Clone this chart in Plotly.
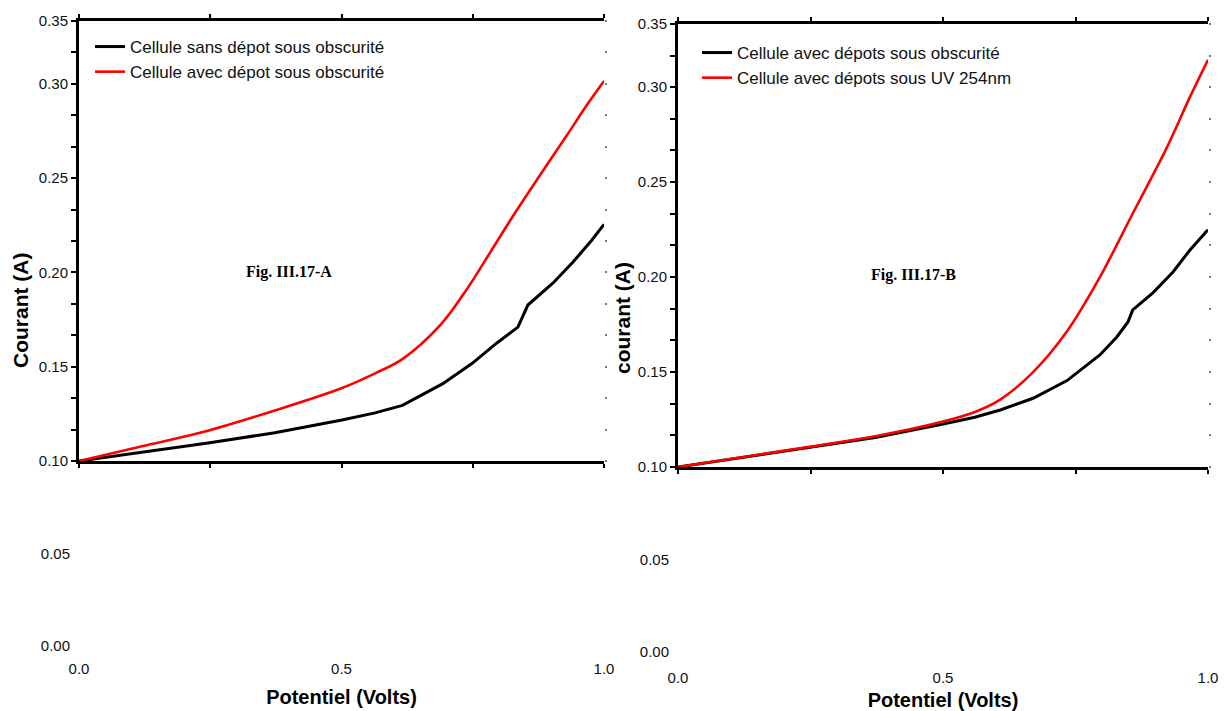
import plotly.graph_objects as go

W, H = 1224, 711

# ---------------- data ----------------
xA_black = [0.0, 0.12, 0.246, 0.373, 0.501, 0.564, 0.616, 0.693, 0.749, 0.796, 0.836, 0.855, 0.903, 0.941, 0.977, 1.0]
yA_black = [0.100, 0.1045, 0.1095, 0.1150, 0.1217, 0.1255, 0.1295, 0.1410, 0.1518, 0.1626, 0.1710, 0.1827, 0.1944, 0.2055, 0.2172, 0.2255]

xA_red = [0.0, 0.12, 0.234, 0.373, 0.501, 0.564, 0.616, 0.688, 0.739, 0.783, 0.827, 0.878, 0.930, 0.968, 1.0]
yA_red = [0.100, 0.1078, 0.1152, 0.1268, 0.1387, 0.1465, 0.1540, 0.1720, 0.1912, 0.2105, 0.2300, 0.2515, 0.2730, 0.2890, 0.3015]

xB_black = [0.0, 0.245, 0.372, 0.498, 0.560, 0.608, 0.670, 0.734, 0.796, 0.828, 0.849, 0.858, 0.896, 0.934, 0.966, 1.0]
yB_black = [0.100, 0.1100, 0.1155, 0.1225, 0.1262, 0.1300, 0.1362, 0.1455, 0.1590, 0.1685, 0.1764, 0.1827, 0.1917, 0.2027, 0.2143, 0.2249]

xB_red = [0.0, 0.245, 0.372, 0.498, 0.560, 0.608, 0.670, 0.734, 0.796, 0.858, 0.923, 0.966, 1.0]
yB_red = [0.100, 0.1105, 0.1162, 0.1238, 0.1290, 0.1355, 0.1500, 0.1715, 0.2000, 0.2335, 0.2686, 0.2949, 0.3145]

names_A = ["Cellule sans dépot sous obscurité", "Cellule avec dépot sous obscurité"]
names_B = ["Cellule avec dépots sous obscurité", "Cellule avec dépots sous UV 254nm"]

y_tick_vals = [0.10, 0.1167, 0.1333, 0.15, 0.1667, 0.1833, 0.20, 0.2167, 0.2333,
               0.25, 0.2667, 0.2833, 0.30, 0.3167, 0.3333]
y_tick_text = ["0.10", "", "", "0.15", "", "", "0.20", "", "",
               "0.25", "", "", "0.30", "", "0.35"]
y_low_vals = [0.0, 0.05]
y_low_text = ["0.00", "0.05"]
x_frame_ticks = [0.0, 0.25, 0.5, 0.75, 1.0]
x_label_vals = [0.0, 0.5, 1.0]
x_label_text = ["0.0", "0.5", "1.0"]

# ---------------- layout helpers ----------------
def px_x(p):
    return p / W

def px_y(p):
    return 1 - p / H

SANS = "Liberation Sans, Arial, sans-serif"
TICK_FONT = dict(family=SANS, size=15, color="#111")
LEG_FONT = dict(family=SANS, size=17, color="#111")
TITLE_FONT = dict(family=SANS, size=20, color="#000")

fig = go.Figure()

fig.add_trace(go.Scatter(x=xA_black, y=yA_black, name=names_A[0], mode="lines",
                         line=dict(color="black", width=3), xaxis="x", yaxis="y", legend="legend"))
fig.add_trace(go.Scatter(x=xA_red, y=yA_red, name=names_A[1], mode="lines",
                         line=dict(color="#ff0000", width=2.6, shape="spline", smoothing=1.0),
                         xaxis="x", yaxis="y", legend="legend"))
fig.add_trace(go.Scatter(x=xB_black, y=yB_black, name=names_B[0], mode="lines",
                         line=dict(color="black", width=3), xaxis="x3", yaxis="y4", legend="legend2"))
fig.add_trace(go.Scatter(x=xB_red, y=yB_red, name=names_B[1], mode="lines",
                         line=dict(color="#ff0000", width=2.6, shape="spline", smoothing=1.0),
                         xaxis="x3", yaxis="y4", legend="legend2"))

# invisible carriers so that the helper axes (labels below the frame, right ticks) get drawn
for xs, ys, xa, ya in [(xA_black, yA_black, "x2", "y3"), (xA_black, yA_black, "x", "y2"),
                       (xB_black, yB_black, "x4", "y6"), (xB_black, yB_black, "x3", "y5")]:
    fig.add_trace(go.Scatter(x=xs, y=ys, mode="lines", line=dict(color="rgba(0,0,0,0)", width=0),
                             showlegend=False, hoverinfo="skip", xaxis=xa, yaxis=ya))


def frame_axes(xdom, top_px, bot_px, low_px, zero_px, standoff):
    scale_low = (zero_px - bot_px) / 0.10
    low_min = 0.10 - (low_px - bot_px) / scale_low
    fx = dict(domain=xdom, range=[0, 1], showline=True, linewidth=3, linecolor="black",
              mirror="ticks", ticks="outside", ticklen=4, tickwidth=2, tickcolor="black",
              tickvals=x_frame_ticks, showticklabels=False, showgrid=False, zeroline=False,
              automargin=False)
    lx = dict(domain=xdom, range=[0, 1], showline=False, ticks="", tickvals=x_label_vals,
              ticktext=x_label_text, tickfont=TICK_FONT, showgrid=False, zeroline=False,
              automargin=False,
              title=dict(text="<b>Potentiel (Volts)</b>", font=TITLE_FONT, standoff=standoff))
    fy = dict(domain=[px_y(bot_px), px_y(top_px)], range=[0.10, 0.3333], showline=True,
              linewidth=3, linecolor="black", ticks="outside", ticklen=5, tickwidth=2,
              tickcolor="black", tickvals=y_tick_vals, ticktext=y_tick_text,
              tickfont=TICK_FONT, showgrid=False, zeroline=False, automargin=False)
    ry = dict(range=[0.10, 0.3333], side="right", showline=False, ticks="outside", ticklen=2,
              tickwidth=2, tickcolor="#777", tickvals=y_tick_vals, showticklabels=False,
              showgrid=False, zeroline=False, automargin=False)
    ly = dict(domain=[px_y(low_px), px_y(bot_px)], range=[low_min, 0.10], showline=False,
              ticks="outside", ticklen=5, tickcolor="rgba(0,0,0,0)", tickvals=y_low_vals,
              ticktext=y_low_text, tickfont=TICK_FONT, showgrid=False, zeroline=False,
              automargin=False)
    return fx, lx, fy, ry, ly

fxA, lxA, fyA, ryA, lyA = frame_axes([px_x(79), px_x(604)], 21, 461, 658, 646, 13)
fxB, lxB, fyB, ryB, lyB = frame_axes([px_x(678), px_x(1208)], 24, 467, 667, 652, 8)

fxA.update(anchor="y"); lxA.update(anchor="y3")
fyA.update(anchor="x"); ryA.update(overlaying="y", anchor="x"); lyA.update(anchor="x2")
fxB.update(anchor="y4"); lxB.update(anchor="y6")
fyB.update(anchor="x3"); ryB.update(overlaying="y4", anchor="x3"); lyB.update(anchor="x4")

fig.update_layout(
    template="none",
    width=W, height=H, autosize=False,
    margin=dict(l=0, r=0, t=0, b=0, autoexpand=False),
    paper_bgcolor="white", plot_bgcolor="rgba(0,0,0,0)",
    xaxis=fxA, xaxis2=lxA, xaxis3=fxB, xaxis4=lxB,
    yaxis=fyA, yaxis2=ryA, yaxis3=lyA, yaxis4=fyB, yaxis5=ryB, yaxis6=lyB,
    legend=dict(x=px_x(90), y=px_y(29), xanchor="left", yanchor="top",
                font=LEG_FONT, bgcolor="rgba(0,0,0,0)", tracegroupgap=0, itemwidth=30),
    legend2=dict(x=px_x(697), y=px_y(35), xanchor="left", yanchor="top",
                 font=LEG_FONT, bgcolor="rgba(0,0,0,0)", tracegroupgap=0, itemwidth=30),
    showlegend=True,
    annotations=[
        dict(text="<b>Courant (A)</b>", x=px_x(20), y=px_y(311), xref="paper", yref="paper",
             xanchor="center", yanchor="middle", textangle=-90, showarrow=False,
             font=dict(family=SANS, size=21, color="#000")),
        dict(text="<b>courant (A)</b>", x=px_x(622), y=px_y(318), xref="paper", yref="paper",
             xanchor="center", yanchor="middle", textangle=-90, showarrow=False,
             font=dict(family=SANS, size=21, color="#000")),
        dict(text="<b>Fig. III.17-A</b>", x=px_x(289), y=px_y(272), xref="paper", yref="paper",
             xanchor="center", yanchor="middle", showarrow=False,
             font=dict(family="Liberation Serif, Times New Roman, serif", size=16, color="#000")),
        dict(text="<b>Fig. III.17-B</b>", x=px_x(913), y=px_y(275), xref="paper", yref="paper",
             xanchor="center", yanchor="middle", showarrow=False,
             font=dict(family="Liberation Serif, Times New Roman, serif", size=16, color="#000")),
    ],
)

fig.write_html("out.html")
